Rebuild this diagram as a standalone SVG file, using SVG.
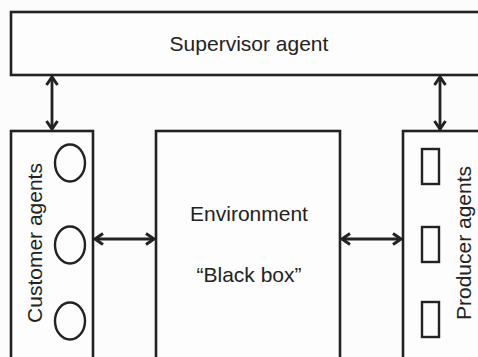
<svg xmlns="http://www.w3.org/2000/svg" width="478" height="357" viewBox="0 0 478 357">
<defs>
<style>
.box{fill:#fdfdfd;stroke:#222;stroke-width:2.6}
.sh{fill:none;stroke:#222;stroke-width:2.4}
.lbl{font-family:"Liberation Sans",Arial,sans-serif;font-size:21px;fill:#222;text-anchor:middle}
.con{stroke:#222;stroke-width:2.8;fill:none;marker-start:url(#ah);marker-end:url(#ah)}
</style>
<marker id="ah" viewBox="0 0 14 14" refX="11" refY="7" markerWidth="14" markerHeight="14" markerUnits="userSpaceOnUse" orient="auto-start-reverse">
<path d="M3,1.5 L11,7 L3,12.5" fill="none" stroke="#222" stroke-width="3" stroke-linejoin="miter"/>
</marker>
</defs>
<rect width="478" height="357" fill="#fcfcfc"/>
<g id="supervisor">
<rect class="box" x="11" y="12" width="480" height="63"/>
<text class="lbl" x="249" y="51">Supervisor agent</text>
</g>
<g id="customers">
<rect class="box" x="11" y="131" width="82" height="240"/>
<text class="lbl" transform="translate(42,243) rotate(-90)">Customer agents</text>
<ellipse class="sh" cx="70" cy="163" rx="15" ry="18.5"/>
<ellipse class="sh" cx="70" cy="245" rx="15" ry="18.5"/>
<ellipse class="sh" cx="70" cy="321" rx="15" ry="18.5"/>
</g>
<g id="environment">
<rect class="box" x="156" y="131" width="184" height="240"/>
<text class="lbl" x="249" y="221">Environment</text>
<text class="lbl" x="249" y="282">“Black box”</text>
</g>
<g id="producers">
<rect class="box" x="403" y="131" width="90" height="240"/>
<text class="lbl" transform="translate(471,243) rotate(-90)">Producer agents</text>
<rect class="sh" x="422" y="149" width="17" height="35"/>
<rect class="sh" x="422" y="227" width="17" height="35"/>
<rect class="sh" x="422" y="302" width="17" height="35"/>
</g>
<g id="connectors">
<line class="con" x1="52" y1="77" x2="52" y2="129"/>
<line class="con" x1="440" y1="77" x2="440" y2="129"/>
<line class="con" x1="95" y1="239" x2="154" y2="239"/>
<line class="con" x1="342" y1="239" x2="401" y2="239"/>
</g>
</svg>
